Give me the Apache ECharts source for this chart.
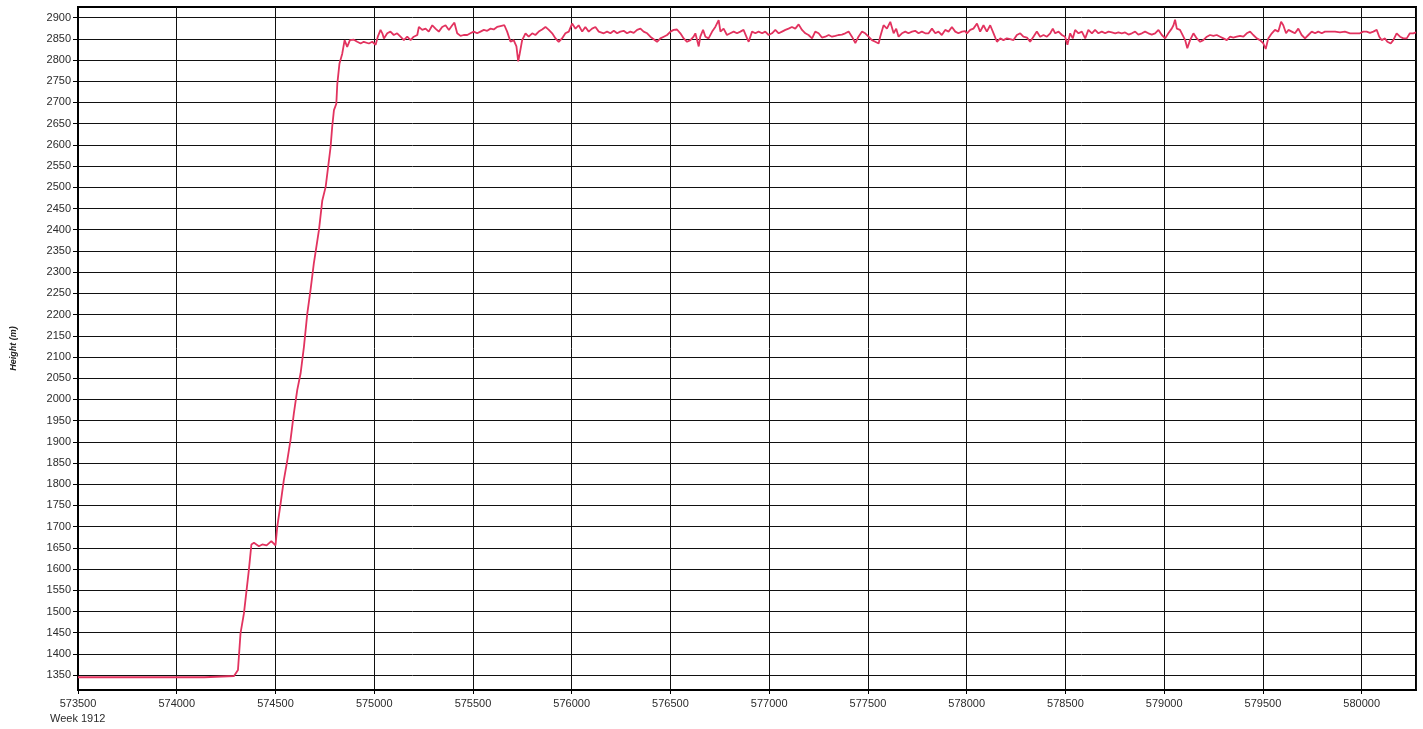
<!DOCTYPE html>
<html>
<head>
<meta charset="utf-8">
<title>Height (m) - Week 1912</title>
<script src="https://cdn.jsdelivr.net/npm/echarts@6/dist/echarts.min.js"></script>
<style>
  html, body { margin: 0; padding: 0; background: #fff; }
  #chart { width: 1423px; height: 729px; }
</style>
</head>
<body>
<div id="chart"></div>
<script>
// time of week (s) and height (m)
const timeValues = [
  573500, 574140, 574145, 574290, 574300, 574310, 574323, 574340, 574365, 574378,
  574391, 574416, 574433, 574455, 574479, 574500, 574509, 574526, 574542, 574560,
  574576, 574593, 574610, 574627, 574644, 574661, 574678, 574694, 574720, 574737,
  574754, 574779, 574787, 574796, 574808, 574813, 574824, 574838, 574850, 574863,
  574877, 574897, 574914, 574931, 574947, 574973, 574990, 575007, 575018, 575032,
  575041, 575049, 575066, 575082, 575099, 575116, 575133, 575150, 575167, 575184,
  575200, 575218, 575226, 575243, 575260, 575276, 575294, 575310, 575327, 575344,
  575361, 575378, 575395, 575406, 575420, 575437, 575453, 575471, 575487, 575504,
  575521, 575538, 575555, 575572, 575589, 575605, 575622, 575639, 575659, 575673,
  575690, 575706, 575720, 575729, 575737, 575749, 575766, 575782, 575800, 575816,
  575833, 575850, 575867, 575884, 575901, 575918, 575934, 575951, 575968, 575985,
  576002, 576019, 576035, 576053, 576069, 576086, 576103, 576120, 576137, 576145,
  576162, 576179, 576196, 576213, 576230, 576246, 576263, 576280, 576297, 576314,
  576331, 576348, 576364, 576382, 576398, 576415, 576432, 576449, 576466, 576483,
  576500, 576516, 576533, 576550, 576567, 576584, 576601, 576617, 576626, 576643,
  576651, 576665, 576677, 576693, 576711, 576727, 576744, 576753, 576769, 576786,
  576803, 576820, 576837, 576854, 576870, 576888, 576896, 576913, 576930, 576946,
  576964, 576980, 576997, 577014, 577031, 577048, 577065, 577082, 577098, 577115,
  577132, 577149, 577166, 577183, 577199, 577217, 577233, 577250, 577267, 577284,
  577301, 577318, 577335, 577351, 577368, 577385, 577402, 577419, 577436, 577452,
  577470, 577486, 577503, 577520, 577537, 577554, 577562, 577579, 577596, 577613,
  577630, 577643, 577655, 577672, 577689, 577705, 577723, 577739, 577756, 577773,
  577790, 577807, 577824, 577841, 577857, 577874, 577891, 577908, 577925, 577942,
  577958, 577976, 577992, 578001, 578018, 578034, 578052, 578068, 578085, 578102,
  578119, 578136, 578153, 578170, 578186, 578203, 578220, 578237, 578254, 578271,
  578287, 578305, 578321, 578338, 578355, 578372, 578389, 578406, 578423, 578436,
  578448, 578465, 578482, 578498, 578510, 578524, 578537, 578549, 578566, 578583,
  578600, 578616, 578634, 578650, 578667, 578684, 578701, 578718, 578735, 578752,
  578768, 578785, 578802, 578819, 578836, 578853, 578869, 578887, 578903, 578920,
  578937, 578954, 578971, 578988, 579005, 579021, 579038, 579047, 579055, 579064,
  579080, 579089, 579106, 579117, 579131, 579148, 579165, 579182, 579198, 579216,
  579232, 579249, 579266, 579283, 579300, 579317, 579334, 579350, 579367, 579384,
  579401, 579418, 579435, 579451, 579469, 579485, 579502, 579514, 579527, 579545,
  579561, 579578, 579592, 579603, 579617, 579629, 579646, 579662, 579679, 579696,
  579713, 579730, 579747, 579764, 579780, 579798, 579814, 579840, 579865, 579890,
  579915, 579941, 579966, 579991, 580008, 580025, 580042, 580059, 580076, 580089,
  580101, 580118, 580130, 580147, 580160, 580177, 580194, 580211, 580228, 580244,
  580261, 580275
];

const heightValues = [
  1345, 1345, 1348, 1348, 1345, 1362, 1449, 1495, 1597, 1658,
  1662, 1654, 1658, 1656, 1666, 1656, 1700, 1755, 1809, 1857,
  1904, 1967, 2022, 2061, 2124, 2202, 2260, 2320, 2399, 2469,
  2501, 2595, 2642, 2682, 2697, 2744, 2792, 2815, 2847, 2831,
  2847, 2848, 2843, 2839, 2843, 2839, 2843, 2836, 2855, 2871,
  2863, 2851, 2863, 2867, 2859, 2863, 2855, 2847, 2855, 2847,
  2855, 2859, 2878, 2871, 2874, 2867, 2882, 2874, 2867, 2878,
  2882, 2871, 2882, 2888, 2863, 2857, 2859, 2859, 2863, 2867,
  2863, 2867, 2871, 2869, 2874, 2872, 2878, 2880, 2882, 2867,
  2843, 2847, 2832, 2797, 2816, 2847, 2863, 2855, 2863, 2859,
  2867, 2872, 2878, 2871, 2863, 2851, 2843, 2851, 2863, 2867,
  2886, 2874, 2882, 2867, 2878, 2867, 2874, 2878, 2867, 2871,
  2863, 2867, 2863, 2869, 2863, 2867, 2869, 2863, 2867, 2864,
  2871, 2874, 2867, 2863, 2855, 2849, 2843, 2851, 2855, 2859,
  2867, 2871, 2872, 2863, 2851, 2843, 2847, 2855, 2863, 2832,
  2855, 2871, 2855, 2851, 2867, 2878, 2894, 2867, 2874, 2859,
  2863, 2867, 2863, 2867, 2871, 2851, 2843, 2867, 2863, 2867,
  2863, 2867, 2859, 2863, 2871, 2863, 2867, 2871, 2874, 2878,
  2874, 2884, 2871, 2863, 2859, 2851, 2867, 2863, 2853, 2855,
  2859, 2855, 2857, 2859, 2860, 2863, 2867, 2855, 2840, 2855,
  2867, 2863, 2855, 2847, 2843, 2839, 2855, 2882, 2874, 2890,
  2863, 2874, 2855, 2863, 2867, 2863, 2867, 2869, 2863, 2867,
  2863, 2863, 2874, 2863, 2867, 2859, 2871, 2867, 2878, 2867,
  2863, 2867, 2868, 2863, 2871, 2874, 2886, 2867, 2882, 2867,
  2882, 2863, 2843, 2851, 2847, 2851, 2849, 2847, 2859, 2863,
  2855, 2853, 2843, 2855, 2867, 2855, 2859, 2855, 2863, 2874,
  2863, 2867, 2859, 2855, 2836, 2863, 2851, 2871, 2863, 2867,
  2851, 2871, 2863, 2871, 2863, 2867, 2863, 2867, 2865, 2863,
  2865, 2863, 2865, 2860, 2863, 2867, 2860, 2863, 2867, 2863,
  2860, 2863, 2871, 2859, 2851, 2863, 2874, 2882, 2895, 2874,
  2871, 2863, 2847, 2828, 2847, 2863, 2851, 2843, 2847, 2855,
  2859, 2857, 2859, 2855, 2851, 2847, 2855, 2853, 2855, 2857,
  2855, 2863, 2867, 2859, 2851, 2847, 2839, 2826, 2851, 2863,
  2871, 2867, 2890, 2882, 2863, 2871, 2867, 2863, 2874, 2859,
  2851, 2859, 2867, 2863, 2867, 2863, 2867, 2867, 2867, 2865,
  2867, 2863, 2863, 2863, 2867, 2867, 2864, 2867, 2871, 2855,
  2847, 2851, 2843, 2839, 2847, 2863, 2855, 2851, 2851, 2863,
  2863, 2865
];

const yTicks = [
  1350, 1400, 1450, 1500, 1550, 1600, 1650, 1700, 1750, 1800, 1850, 1900,
  1950, 2000, 2050, 2100, 2150, 2200, 2250, 2300, 2350, 2400, 2450, 2500,
  2550, 2600, 2650, 2700, 2750, 2800, 2850, 2900
];

const xMin = 573500;
const xMax = 580275;
const yMin = 1315;
const yMax = 2925;
const weekLabel = "Week 1912";
const yAxisTitle = "Height (m)";

const chart = echarts.init(document.getElementById("chart"));

const seriesData = timeValues.map((t, i) => [t, heightValues[i]]);
const labelFont = "'Liberation Sans', Arial, sans-serif";
const plainNumber = (v) => String(v);

chart.setOption({
  animation: false,
  backgroundColor: "#ffffff",
  grid: {
    left: 78,
    right: 7,
    top: 7,
    bottom: 39,
    outerBoundsMode: "none",
    containLabel: false,
    show: true,
    borderColor: "#000",
    borderWidth: 2,
    backgroundColor: "transparent",
  },
  xAxis: {
    type: "value",
    min: xMin,
    max: xMax,
    interval: 500,
    axisLine: { show: true, lineStyle: { color: "#000", width: 2 } },
    axisTick: { show: true, length: 4, lineStyle: { color: "#000" } },
    axisLabel: {
      color: "#2b2b2b",
      fontSize: 11,
      fontFamily: labelFont,
      margin: 8,
      showMaxLabel: false,
      formatter: plainNumber,
    },
    splitLine: { show: true, lineStyle: { color: "#111", width: 1 } },
  },
  yAxis: {
    type: "value",
    min: yMin,
    max: yMax,
    name: yAxisTitle,
    nameLocation: "middle",
    nameRotate: 90,
    nameGap: 60,
    nameTextStyle: {
      fontSize: 9,
      fontStyle: "italic",
      fontWeight: "bold",
      color: "#222",
      fontFamily: labelFont,
    },
    axisLine: { show: true, lineStyle: { color: "#000", width: 2 } },
    axisTick: {
      show: true,
      length: 5,
      customValues: yTicks,
      lineStyle: { color: "#000" },
    },
    axisLabel: {
      color: "#2b2b2b",
      fontSize: 11,
      fontFamily: labelFont,
      margin: 7,
      customValues: yTicks,
      formatter: plainNumber,
    },
    splitLine: { show: true, lineStyle: { color: "#111", width: 1 } },
  },
  graphic: [
    {
      type: "text",
      left: 50,
      top: 713,
      style: {
        text: weekLabel,
        fill: "#2b2b2b",
        font: "11px " + labelFont,
      },
    },
  ],
  series: [
    {
      type: "line",
      data: seriesData,
      showSymbol: false,
      clip: true,
      lineStyle: { color: "#e2335f", width: 1.8 },
    },
  ],
});
</script>
</body>
</html>
